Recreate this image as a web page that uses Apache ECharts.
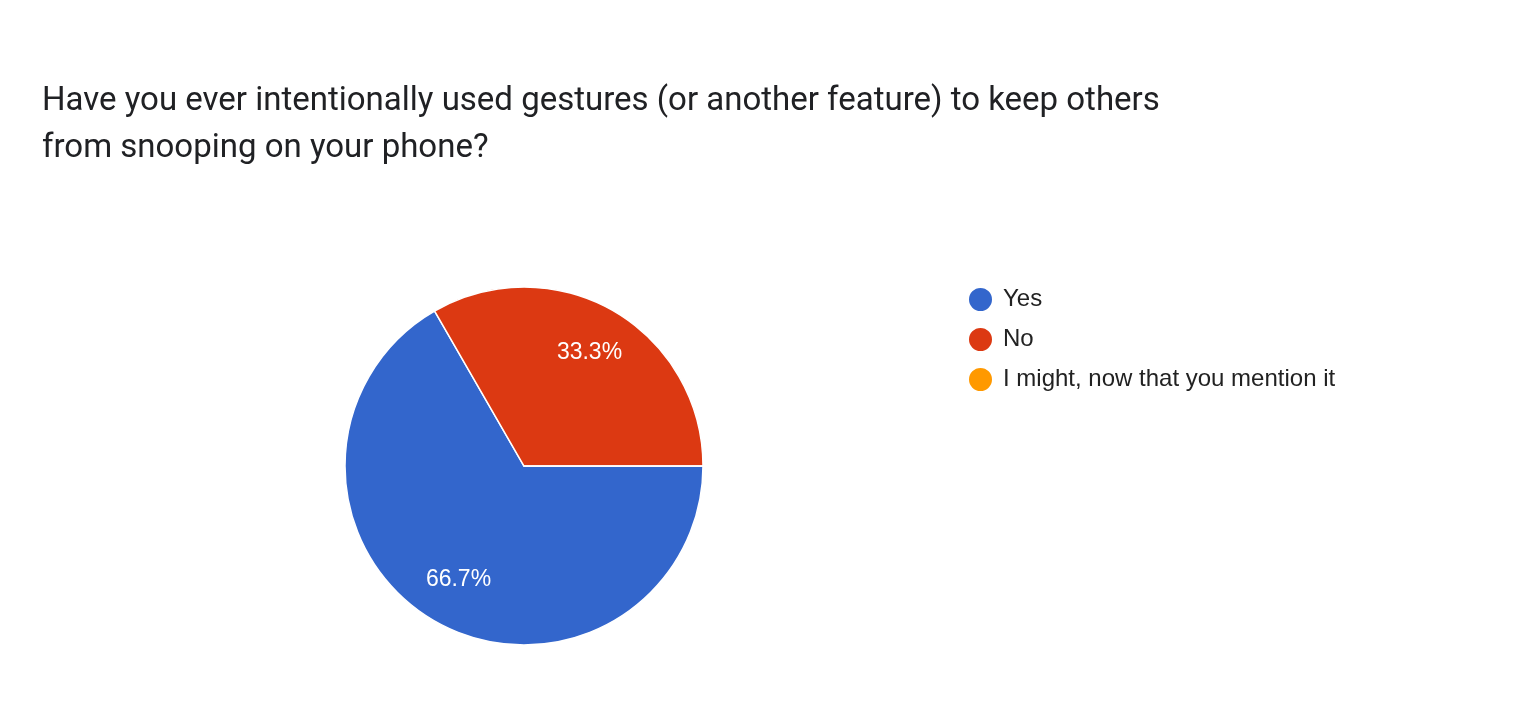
<!DOCTYPE html>
<html><head><meta charset="utf-8">
<script src="https://cdn.jsdelivr.net/npm/echarts@6/dist/echarts.min.js"></script>
<style>html,body{margin:0;padding:0;background:#fff;}#c{width:1520px;height:710px;}</style>
</head><body><div id="c"></div>
<script>
const titleText = "Have you ever intentionally used gestures (or another feature) to keep others\nfrom snooping on your phone?";
const categories = ["Yes", "No", "I might, now that you mention it"];
const counts = [2, 1, 0];
const colors = ["#3366cc", "#dc3912", "#ff9900"];

const data = categories.map((n, i) => ({ name: n, value: counts[i], itemStyle: { color: colors[i] } }));
const chart = echarts.init(document.getElementById('c'));
chart.setOption({
  animation: false,
  title: {
    text: titleText, left: 37, top: 73,
    textStyle: { fontFamily: 'Roboto', fontSize: 33, fontWeight: 'normal', color: '#202124', lineHeight: 47 }
  },
  legend: {
    orient: 'vertical', left: 962, top: 281,
    data: categories, icon: 'circle', itemWidth: 25, itemHeight: 25, itemGap: 13,
    textStyle: { fontFamily: 'Liberation Sans, Arial', fontSize: 24, color: '#222', padding: [0, 0, 0, 5] },
    selectedMode: false
  },
  series: [
    {
      type: 'pie', center: [524, 466], radius: [0, 179], startAngle: 0, clockwise: true,
      data: data, label: { show: false }, labelLine: { show: false },
      itemStyle: { borderColor: '#fff', borderWidth: 1.5 }, silent: true
    },
    {
      type: 'pie', center: [524, 466], radius: [77, 179], startAngle: 0, clockwise: true,
      data: categories.map((n, i) => ({ name: n, value: counts[i] })),
      itemStyle: { color: 'rgba(0,0,0,0)' }, silent: true, legendHoverLink: false,
      label: {
        show: true, position: 'inside', color: '#fff', fontFamily: 'Liberation Sans, Arial', fontSize: 23,
        formatter: p => p.percent > 0 ? p.percent.toFixed(1) + '%' : ''
      },
      labelLine: { show: false }
    }
  ]
});
</script></body></html>
